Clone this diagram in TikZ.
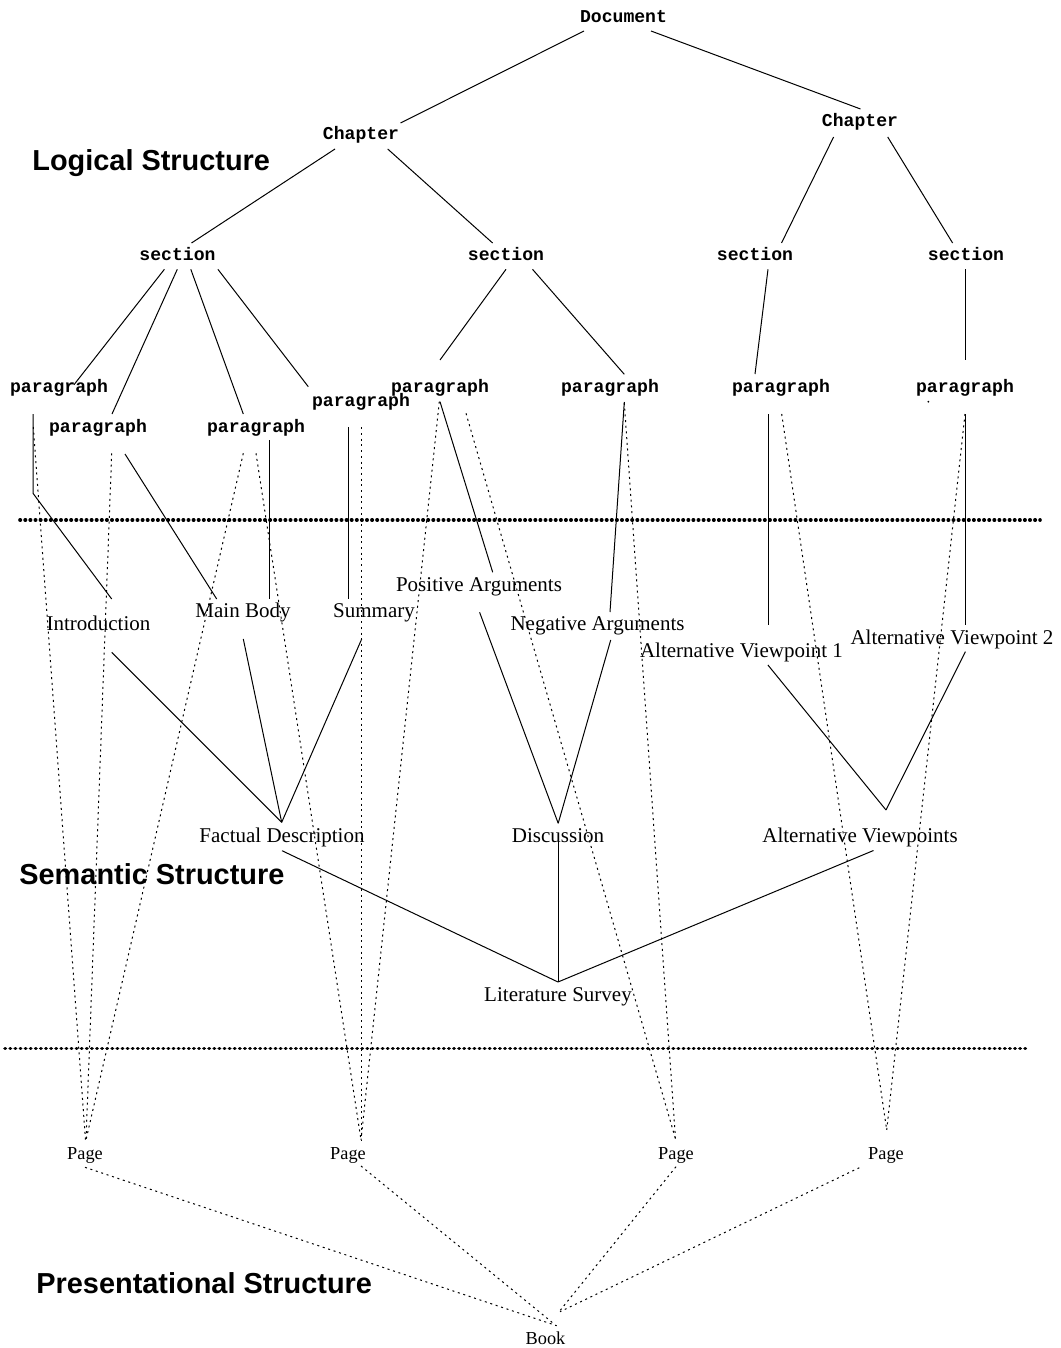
\documentclass[tikz,border=0pt]{standalone}
\usepackage{fontspec}
\setmainfont{Liberation Serif}
\newfontfamily\codefont{Liberation Mono}
\newfontfamily\headfont{Liberation Sans}
\begin{document}
\begin{tikzpicture}[x=0.5pt, y=-0.5pt,
  logical/.style={font=\codefont\bfseries\fontsize{9.05}{11}\selectfont, inner sep=0pt, anchor=base},
  semantic/.style={font=\fontsize{10.5}{12}\selectfont, inner sep=0pt, anchor=base},
  present/.style={font=\fontsize{9.15}{11}\selectfont, inner sep=0pt, anchor=base},
  layer/.style={font=\headfont\bfseries\fontsize{14.45}{17}\selectfont, inner sep=0pt, anchor=base west},
  tree/.style={line width=0.5pt},
  link/.style={line width=0.5pt, dash pattern=on 1pt off 1.85pt},
  divider/.style={line width=1.8pt, line cap=round, dash pattern=on 0.2pt off 2.35pt}]

\useasboundingbox (0,0) rectangle (1060,1348);

% ---------- layer titles ----------
\node[layer] (tLog) at (32,170.5) {Logical Structure};
\node[layer] (tSem) at (19,884.4) {Semantic Structure};
\node[layer] (tPre) at (36,1293) {Presentational Structure};

% ---------- logical structure ----------
\node[logical] (doc) at (623.5,22.3) {Document};
\node[logical] (chL) at (361,140) {Chapter};
\node[logical] (chR) at (860,127) {Chapter};
\node[logical] (s1) at (177.5,260.5) {section};
\node[logical] (s2) at (506,260.5) {section};
\node[logical] (s3) at (755,260.5) {section};
\node[logical] (s4) at (966,260.5) {section};
\node[logical] (p1) at (59,392) {paragraph};
\node[logical] (p2) at (98,432) {paragraph};
\node[logical] (p3) at (256,432) {paragraph};
\node[logical] (p4) at (361,406) {paragraph};
\node[logical] (p5) at (440,392) {paragraph};
\node[logical] (p6) at (610,392) {paragraph};
\node[logical] (p7) at (781,392) {paragraph};
\node[logical] (p8) at (965,392) {paragraph};

% ---------- semantic structure ----------
\node[semantic] (intro) at (98.5,630.7) {Introduction};
\node[semantic] (mainb) at (243,617.3) {Main Body};
\node[semantic] (summ) at (374,617.3) {Summary};
\node[semantic] (pos) at (479,591) {Positive Arguments};
\node[semantic] (neg) at (597.5,630.7) {Negative Arguments};
\node[semantic] (av1) at (741.5,657) {Alternative Viewpoint 1};
\node[semantic] (av2) at (952,644) {Alternative Viewpoint 2};
\node[semantic] (fact) at (282,842) {Factual Description};
\node[semantic] (disc) at (558,842) {Discussion};
\node[semantic] (avs) at (860,842) {Alternative Viewpoints};
\node[semantic] (lit) at (558,1001) {Literature Survey};

% ---------- presentational structure ----------
\node[present] (pg1) at (85,1159) {Page};
\node[present] (pg2) at (348,1159) {Page};
\node[present] (pg3) at (676,1159) {Page};
\node[present] (pg4) at (886,1159) {Page};
\node[present] (book) at (545.5,1344) {Book};

% ---------- layer dividers ----------
\draw[divider] (20,520) -- (1040,520);
\draw[divider] (5,1048.3) -- (1028,1048.3);

% ---------- logical tree ----------
\draw[tree] ([shift={(-39.5,8.7)}]doc.base) -- ([shift={(39.5,-17)}]chL.base);
\draw[tree] ([shift={(27.5,8.7)}]doc.base) -- ([shift={(0.5,-18)}]chR.base);
\draw[tree] ([shift={(-26,9)}]chL.base) -- ([shift={(14,-17.5)}]s1.base);
\draw[tree] ([shift={(26.7,9)}]chL.base) -- ([shift={(-13.4,-17.5)}]s2.base);
\draw[tree] ([shift={(-26.4,10)}]chR.base) -- ([shift={(26.5,-17.5)}]s3.base);
\draw[tree] ([shift={(27.7,10)}]chR.base) -- ([shift={(-13.4,-17.5)}]s4.base);
\draw[tree] ([shift={(-13.1,8.8)}]s1.base) -- ([shift={(15,-7.3)}]p1.base);
\draw[tree] ([shift={(-0.2,8.8)}]s1.base) -- ([shift={(14,-18)}]p2.base);
\draw[tree] ([shift={(13.3,8.8)}]s1.base) -- ([shift={(-12.7,-18)}]p3.base);
\draw[tree] ([shift={(40.4,8.8)}]s1.base) -- ([shift={(-52.7,-19.3)}]p4.base);
\draw[tree] ([shift={(0,8.8)}]s2.base) -- ([shift={(0,-32)}]p5.base);
\draw[tree] ([shift={(26.5,8.8)}]s2.base) -- ([shift={(14.3,-17.7)}]p6.base);
\draw[tree] ([shift={(13,8.8)}]s3.base) -- ([shift={(-26,-18)}]p7.base);
\draw[tree] ([shift={(-0.5,8.8)}]s4.base) -- ([shift={(0.5,-32)}]p8.base);
\fill (928.3,401.7) circle (0.5pt);

% ---------- paragraphs to semantic units ----------
\draw[tree] ([shift={(-26,22)}]p1.base) -- ([shift={(-26,101.3)}]p1.base) -- ([shift={(13.2,-31.7)}]intro.base);
\draw[tree] ([shift={(27,22)}]p2.base) -- ([shift={(-26.3,-18.3)}]mainb.base);
\draw[tree] ([shift={(13.3,8)}]p3.base) -- ([shift={(26.3,-18.3)}]mainb.base);
\draw[tree] ([shift={(-12.7,21.3)}]p4.base) -- ([shift={(-25.7,-18.3)}]summ.base);
\draw[tree] ([shift={(0,9.7)}]p5.base) -- ([shift={(13.7,-18.7)}]pos.base);
\draw[tree] ([shift={(14.3,10)}]p6.base) -- ([shift={(12.5,-18.7)}]neg.base);
\draw[tree] ([shift={(-13,22)}]p7.base) -- ([shift={(26.5,-32)}]av1.base);
\draw[tree] ([shift={(0,22)}]p8.base) -- ([shift={(13,-19)}]av2.base);

% ---------- paragraphs to pages ----------
\draw[link] ([shift={(-25.7,35)}]p1.base) -- ([shift={(0.5,-19)}]pg1.base);
\draw[link] ([shift={(13.7,21.3)}]p2.base) -- ([shift={(1,-19)}]pg1.base);
\draw[link] ([shift={(-12.7,21.3)}]p3.base) -- ([shift={(1,-19)}]pg1.base);
\draw[link] ([shift={(0,21.3)}]p3.base) -- ([shift={(13,-19)}]pg2.base);
\draw[link] ([shift={(0,21.3)}]p4.base) -- ([shift={(13,-19)}]pg2.base);
\draw[link] ([shift={(-0.7,9.7)}]p5.base) -- ([shift={(13,-19)}]pg2.base);
\draw[link] ([shift={(26,21.3)}]p5.base) -- ([shift={(-0.5,-20)}]pg3.base);
\draw[link] ([shift={(14.3,11)}]p6.base) -- ([shift={(-0.5,-20)}]pg3.base);
\draw[link] ([shift={(0.7,22)}]p7.base) -- ([shift={(0.7,-29)}]pg4.base);
\draw[link] ([shift={(0,22)}]p8.base) -- ([shift={(0.7,-29)}]pg4.base);

% ---------- semantic tree ----------
\draw[tree] ([shift={(13.2,21.6)}]intro.base) -- ([shift={(-0.3,-19.7)}]fact.base);
\draw[tree] ([shift={(0.3,21.7)}]mainb.base) -- ([shift={(-0.3,-19.7)}]fact.base);
\draw[tree] ([shift={(-12.3,21.7)}]summ.base) -- ([shift={(-0.3,-19.7)}]fact.base);
\draw[tree] ([shift={(0.6,21.3)}]pos.base) -- ([shift={(0.2,-18.7)}]disc.base);
\draw[tree] ([shift={(13.2,9.3)}]neg.base) -- ([shift={(0.2,-18.7)}]disc.base);
\draw[tree] ([shift={(26.4,8)}]av1.base) -- ([shift={(26,-32)}]avs.base);
\draw[tree] ([shift={(13.4,7.7)}]av2.base) -- ([shift={(26,-32)}]avs.base);
\draw[tree] ([shift={(0,8.7)}]fact.base) -- ([shift={(0,-19)}]lit.base);
\draw[tree] ([shift={(0,-4)}]disc.base) -- ([shift={(0,-19)}]lit.base);
\draw[tree] ([shift={(13.5,8.5)}]avs.base) -- ([shift={(0,-19)}]lit.base);

% ---------- pages to book ----------
\draw[link] ([shift={(0,8.3)}]pg1.base) -- ([shift={(11.2,-18.3)}]book.base);
\draw[link] ([shift={(13,7)}]pg2.base) -- ([shift={(7.8,-20.7)}]book.base);
\draw[link] ([shift={(0,7.7)}]pg3.base) -- ([shift={(12.8,-31.3)}]book.base);
\draw[link] ([shift={(-26.7,8.7)}]pg4.base) -- ([shift={(14.5,-32.3)}]book.base);
\end{tikzpicture}
\end{document}
